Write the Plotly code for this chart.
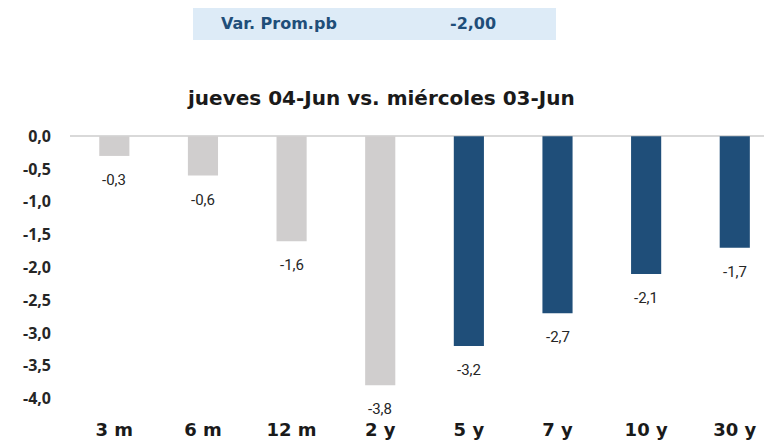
import plotly.graph_objects as go

categories = ["3 m", "6 m", "12 m", "2 y", "5 y", "7 y", "10 y", "30 y"]
values = [-0.3, -0.6, -1.6, -3.8, -3.2, -2.7, -2.1, -1.7]
bar_colors = ["#D0CECE"] * 4 + ["#1F4E79"] * 4
labels = ["-0,3", "-0,6", "-1,6", "-3,8", "-3,2", "-2,7", "-2,1", "-1,7"]
y_ticks = [0, -0.5, -1.0, -1.5, -2.0, -2.5, -3.0, -3.5, -4.0]
y_tick_text = ["0,0", "-0,5", "-1,0", "-1,5", "-2,0", "-2,5", "-3,0", "-3,5", "-4,0"]
title_text = "jueves 04-Jun vs. miércoles 03-Jun"
header_label = "Var. Prom.pb"
header_value = "-2,00"

OFF = 8  # page body margin offset
W, H = 772 - OFF, 443 - OFF
L, T = 70 - OFF, 133 - OFF
pw = 772 - 70
ph = 405 - 133
R = W - L - pw
B = H - T - ph

def px_x(x):
    return (x - 70) / pw

def px_y(y):
    return (405 - y) / ph

fig = go.Figure()
fig.add_trace(go.Bar(
    x=categories, y=values, marker=dict(color=bar_colors, line=dict(width=0)),
    width=0.34, hoverinfo="skip",
))

for c, v, t in zip(categories, values, labels):
    fig.add_annotation(x=c, y=v, text=t, showarrow=False, yanchor="top", yshift=-13,
                       font=dict(family="Roboto", size=15, color="#262626"))

fig.add_shape(type="rect", xref="paper", yref="paper",
              x0=px_x(193), x1=px_x(556), y0=px_y(40), y1=px_y(4),
              fillcolor="#DDEBF7", line=dict(width=0), layer="below")
fig.add_annotation(xref="paper", yref="paper", x=px_x(219), y=px_y(23),
                   xanchor="left", yanchor="middle",
                   text="<b>" + header_label + "</b>", showarrow=False,
                   font=dict(family="DejaVu Sans", size=16, color="#1F4E79"))
fig.add_annotation(xref="paper", yref="paper", x=px_x(498), y=px_y(23),
                   xanchor="right", yanchor="middle",
                   text="<b>" + header_value + "</b>", showarrow=False,
                   font=dict(family="DejaVu Sans", size=16, color="#1F4E79"))
fig.add_annotation(xref="paper", yref="paper", x=px_x(381), y=px_y(98),
                   xanchor="center", yanchor="middle",
                   text="<b>" + title_text + "</b>", showarrow=False,
                   font=dict(family="DejaVu Sans", size=20, color="#1a1a1a"))

fig.update_layout(
    width=W, height=H, margin=dict(l=L, r=R, t=T, b=B, autoexpand=False),
    plot_bgcolor="white", paper_bgcolor="white", showlegend=False,
    xaxis=dict(range=[-0.5, 7.42], showgrid=False, zeroline=False, showline=False,
               ticks="", ticklabelstandoff=12,
               tickfont=dict(family="DejaVu Sans", size=18, color="#1a1a1a", weight="bold")),
    yaxis=dict(range=[-4.1, 0.05], tickvals=y_ticks, ticktext=y_tick_text,
               showgrid=False, zeroline=True, zerolinecolor="#D9D9D9", zerolinewidth=2,
               showline=False, ticks="", ticklabelstandoff=18,
               tickfont=dict(family="Open Sans", size=16, color="#262626", weight="bold")),
)

fig.write_html("out.html")
